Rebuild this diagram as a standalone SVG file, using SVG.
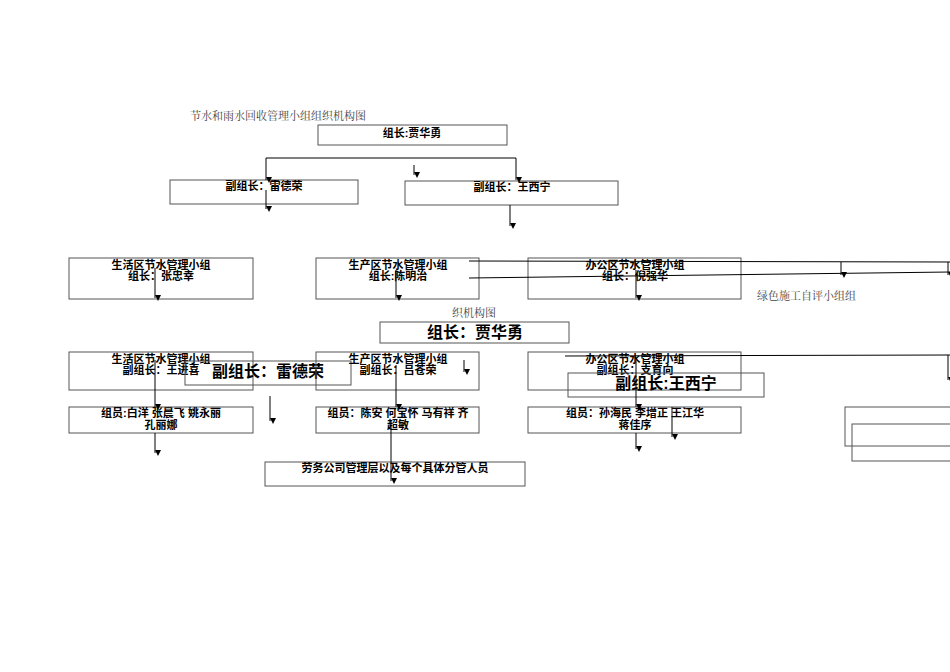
<svg xmlns="http://www.w3.org/2000/svg" width="950" height="672" viewBox="0 0 950 672">
<style>
.b{fill:none;stroke:#555;stroke-width:1}
.t{font-family:"Liberation Sans","Noto Sans CJK SC",sans-serif;font-size:11px;fill:#000;text-anchor:middle;font-weight:bold}
.L{font-family:"Liberation Sans","Noto Sans CJK SC",sans-serif;font-size:16px;fill:#000;text-anchor:middle;font-weight:bold}
.g{font-family:"Liberation Serif","Noto Serif CJK SC","Noto Sans CJK SC",serif;font-size:11px;fill:#444}
.c{fill:none;stroke:#000;stroke-width:1;marker-end:url(#a)}
.n{fill:none;stroke:#000;stroke-width:1}
</style>
<defs><marker id="a" viewBox="0 0 8 8" refX="4" refY="8" markerWidth="6" markerHeight="6" orient="auto-start-reverse" markerUnits="userSpaceOnUse"><path d="M0,0 L8,0 L4,8z" fill="#000" transform="rotate(-90 4 4)"/></marker></defs>
<rect width="950" height="672" fill="#fff"/>
<text class="g" x="190" y="120">节水和雨水回收管理小组组织机构图</text>
<text class="g" x="757" y="300">绿色施工自评小组组</text>
<text class="g" x="452" y="317">织机构图</text>
<g id="n1"><rect class="b" x="318" y="125" width="189" height="20"/><text class="t" x="412" y="137">组长:贾华勇</text></g>
<g id="n2"><rect class="b" x="170" y="180" width="188" height="24"/><text class="t" x="264" y="190">副组长：雷德荣</text></g>
<g id="n3"><rect class="b" x="405" y="181" width="213" height="24"/><text class="t" x="512" y="191">副组长：王西宁</text></g>
<g id="n4"><rect class="b" x="69" y="258" width="184" height="41"/><text class="t" x="161" y="269">生活区节水管理小组</text><text class="t" x="161" y="280">组长：张忠幸</text></g>
<g id="n5"><rect class="b" x="316" y="258" width="163" height="41"/><text class="t" x="398" y="269">生产区节水管理小组</text><text class="t" x="398" y="280">组长:陈明治</text></g>
<g id="n6"><rect class="b" x="528" y="258" width="213" height="41"/><text class="t" x="635" y="269">办公区节水管理小组</text><text class="t" x="635" y="280">组长：倪强华</text></g>
<g id="n7"><rect class="b" x="380" y="322" width="189" height="21"/><text class="L" x="475" y="338">组长：贾华勇</text></g>
<g id="n8"><rect class="b" x="69" y="352" width="184" height="38"/><text class="t" x="161" y="363">生活区节水管理小组</text><text class="t" x="161" y="374">副组长：王进喜</text></g>
<g id="n9"><rect class="b" x="185" y="361" width="166" height="24"/><text class="L" x="268" y="377">副组长：雷德荣</text></g>
<g id="n10"><rect class="b" x="316" y="352" width="163" height="38"/><text class="t" x="398" y="363">生产区节水管理小组</text><text class="t" x="398" y="374">副组长：吕苍荣</text></g>
<g id="n11"><rect class="b" x="528" y="352" width="213" height="38"/><text class="t" x="635" y="363">办公区节水管理小组</text><text class="t" x="635" y="374">副组长：支育向</text></g>
<g id="n12"><rect class="b" x="568" y="373" width="196" height="24"/><text class="L" x="666" y="389">副组长:王西宁</text></g>
<g id="n13"><rect class="b" x="69" y="407" width="184" height="26"/><text class="t" x="161" y="417">组员:白洋 张晨飞 姚永丽</text><text class="t" x="161" y="429">孔丽娜</text></g>
<g id="n14"><rect class="b" x="316" y="407" width="163" height="26"/><text class="t" x="398" y="417">组员：陈安 何宝怀 马有祥 齐</text><text class="t" x="398" y="429">超敏</text></g>
<g id="n15"><rect class="b" x="528" y="407" width="213" height="26"/><text class="t" x="635" y="417">组员：孙海民 李增正 王江华</text><text class="t" x="635" y="429">蒋佳序</text></g>
<g id="n16"><rect class="b" x="265" y="462" width="260" height="24"/><text class="t" x="395" y="472">劳务公司管理层以及每个具体分管人员</text></g>
<g id="n17"><rect class="b" x="845" y="407" width="110" height="39"/></g>
<g id="n18"><rect class="b" x="852" y="424" width="110" height="37"/></g>
<g id="connectors">
<path class="n" d="M266,158 H516"/>
<path class="c" d="M266,158 V180"/>
<path class="c" d="M516,158 V180"/>
<path class="c" d="M414,165 V175"/>
<path class="c" d="M266,190 V209"/>
<path class="c" d="M510,205 V226"/>
<path class="c" d="M155,268 V298"/>
<path class="c" d="M396,270 V298"/>
<path class="c" d="M636,270 V298"/>
<path class="n" d="M469,261 L950,262"/>
<path class="n" d="M469,278 L950,272"/>
<path class="c" d="M841,262 V275"/>
<path class="c" d="M948,262 V275"/>
<path class="n" d="M565,356 L950,355"/>
<path class="c" d="M948,355 V380"/>
<path class="c" d="M464,360 V372"/>
<path class="c" d="M155,360 V407"/>
<path class="c" d="M270,396 V421"/>
<path class="c" d="M396,365 V407"/>
<path class="c" d="M636,360 V407"/>
<path class="c" d="M672,407 V437"/>
<path class="c" d="M636,433 V449"/>
<path class="c" d="M155,433 V453"/>
<path class="c" d="M391,420 V481"/>
</g>
</svg>
